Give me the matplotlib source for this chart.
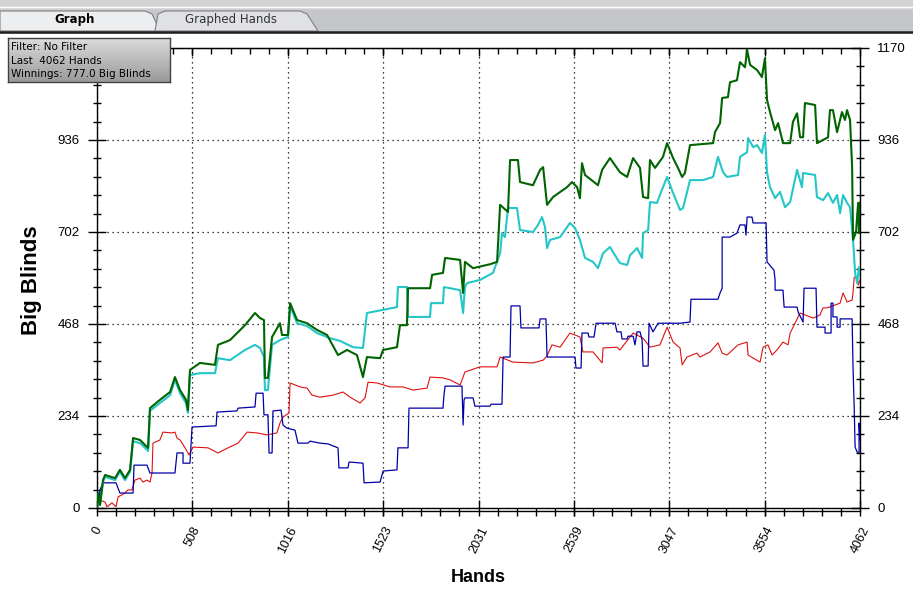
import numpy as np
import matplotlib.pyplot as plt
from matplotlib.patches import Rectangle, Polygon
from matplotlib.colors import LinearSegmentedColormap

# ---- data (hands, big blinds) ----
green_hands = [0, 5, 16, 32, 43, 96, 122, 149, 176, 192,
               229, 256, 272, 282, 335, 389, 415, 442, 474, 484,
               495, 548, 628, 644, 708, 788, 841, 868, 889, 894,
               910, 932, 974, 985, 1017, 1028, 1065, 1118, 1171, 1225,
               1283, 1331, 1384, 1416, 1437, 1507, 1523, 1597, 1613, 1650,
               1656, 1773, 1784, 1842, 1853, 1933, 1949, 1959, 2002, 2092,
               2130, 2146, 2188, 2199, 2241, 2252, 2321, 2359, 2375, 2396,
               2428, 2502, 2529, 2556, 2571, 2582, 2598, 2667, 2689, 2731,
               2784, 2822, 2854, 2891, 2907, 2934, 2944, 2971, 3013, 3035,
               3067, 3093, 3115, 3130, 3157, 3280, 3290, 3317, 3328, 3359,
               3370, 3407, 3423, 3450, 3461, 3477, 3514, 3540, 3556, 3567,
               3583, 3610, 3626, 3652, 3690, 3705, 3727, 3743, 3759, 3769,
               3823, 3833, 3865, 3892, 3902, 3918, 3940, 3966, 3982, 3993,
               4009, 4020, 4025, 4041, 4052, 4057, 4062]
green_bb = [0, 38, 8, 71, 84, 76, 97, 76, 97, 178,
            173, 160, 153, 254, 275, 295, 333, 300, 275, 249,
            351, 369, 364, 415, 427, 465, 496, 483, 478, 331,
            331, 435, 470, 440, 440, 521, 478, 470, 453, 440,
            389, 402, 389, 333, 384, 381, 402, 409, 465, 465,
            559, 559, 593, 598, 636, 631, 547, 626, 610, 620,
            626, 771, 753, 885, 885, 829, 821, 860, 867, 771,
            791, 816, 829, 816, 788, 877, 847, 821, 860, 890,
            854, 842, 890, 865, 791, 788, 885, 865, 893, 928,
            890, 865, 842, 852, 923, 928, 956, 979, 1043, 1045,
            1083, 1088, 1134, 1121, 1165, 1127, 1114, 1096, 1144, 1038,
            1007, 961, 979, 928, 928, 982, 1004, 943, 943, 1030,
            1025, 928, 936, 943, 1012, 1012, 956, 1007, 987, 1012,
            987, 867, 682, 702, 776, 699, 777]

cyan_hands = [0, 5, 16, 32, 43, 96, 122, 149, 176, 192,
              229, 256, 272, 282, 335, 389, 415, 442, 474, 484,
              495, 548, 628, 644, 708, 788, 841, 868, 889, 894,
              910, 932, 974, 1017, 1028, 1065, 1118, 1171, 1240, 1294,
              1363, 1416, 1437, 1523, 1597, 1602, 1650, 1656, 1773, 1778,
              1842, 1847, 1933, 1949, 1959, 1970, 2039, 2108, 2146, 2156,
              2172, 2188, 2236, 2252, 2321, 2348, 2369, 2385, 2396, 2412,
              2465, 2518, 2545, 2571, 2598, 2641, 2667, 2694, 2731, 2747,
              2784, 2822, 2838, 2875, 2902, 2907, 2934, 2944, 2981, 3013,
              3035, 3067, 3104, 3120, 3157, 3226, 3280, 3306, 3333, 3354,
              3413, 3423, 3461, 3466, 3493, 3514, 3540, 3556, 3567, 3583,
              3610, 3636, 3663, 3690, 3727, 3753, 3759, 3823, 3833, 3865,
              3892, 3918, 3940, 3956, 3972, 3993, 4009, 4025, 4036, 4047,
              4057, 4062]
cyan_bb = [0, 33, 8, 66, 79, 71, 92, 71, 92, 170,
           165, 153, 145, 247, 267, 287, 326, 292, 267, 242,
           338, 343, 343, 381, 376, 402, 415, 407, 384, 300,
           300, 415, 427, 435, 514, 470, 463, 445, 432, 425,
           409, 407, 496, 504, 511, 562, 562, 486, 486, 521,
           521, 562, 554, 496, 562, 572, 580, 598, 648, 699,
           689, 763, 763, 707, 702, 720, 740, 715, 661, 682,
           689, 725, 712, 682, 636, 626, 610, 648, 664, 651,
           623, 618, 643, 661, 636, 699, 707, 778, 776, 816,
           842, 801, 758, 763, 834, 834, 842, 893, 854, 842,
           847, 893, 905, 941, 918, 923, 903, 949, 854, 816,
           788, 804, 765, 778, 860, 816, 852, 847, 791, 783,
           801, 776, 796, 750, 796, 776, 765, 682, 598, 572,
           613, 593]

blue_hands = [0, 11, 16, 32, 101, 106, 122, 192, 197, 266,
              282, 415, 426, 458, 458, 495, 506, 634, 639, 745,
              751, 841, 847, 884, 889, 910, 916, 932, 937, 980,
              990, 1012, 1054, 1070, 1123, 1134, 1187, 1230, 1283, 1288,
              1336, 1342, 1416, 1422, 1507, 1523, 1597, 1602, 1656, 1661,
              1842, 1847, 1853, 1943, 1949, 1954, 1959, 2002, 2012, 2092,
              2098, 2156, 2162, 2199, 2204, 2252, 2257, 2353, 2359, 2390,
              2396, 2545, 2550, 2577, 2582, 2614, 2619, 2646, 2657, 2758,
              2768, 2790, 2795, 2822, 2827, 2854, 2864, 2875, 2891, 2902,
              2907, 2934, 2939, 2960, 2987, 3104, 3157, 3162, 3306, 3317,
              3328, 3328, 3370, 3407, 3423, 3450, 3455, 3461, 3487, 3493,
              3562, 3567, 3604, 3610, 3610, 3652, 3658, 3727, 3733, 3759,
              3764, 3828, 3833, 3876, 3876, 3908, 3908, 3918, 3918, 3940,
              3940, 3956, 3956, 4020, 4025, 4031, 4036, 4047, 4057, 4057,
              4062]
blue_bb = [0, 28, 46, 64, 64, 58, 38, 38, 109, 109,
           89, 89, 140, 140, 114, 114, 206, 209, 244, 247,
           254, 257, 292, 292, 237, 237, 140, 140, 247, 249,
           211, 203, 198, 165, 165, 170, 165, 163, 153, 102,
           102, 117, 114, 64, 66, 94, 97, 153, 153, 254,
           254, 287, 310, 310, 211, 275, 280, 280, 259, 259,
           264, 264, 384, 384, 514, 514, 458, 458, 481, 481,
           384, 384, 356, 356, 445, 445, 435, 435, 470, 470,
           448, 448, 430, 430, 437, 437, 415, 448, 448, 427,
           361, 361, 470, 448, 470, 470, 473, 531, 531, 547,
           559, 689, 689, 699, 720, 720, 694, 740, 740, 725,
           725, 626, 605, 580, 554, 554, 511, 511, 498, 473,
           559, 559, 460, 460, 445, 445, 521, 521, 486, 486,
           460, 460, 481, 481, 356, 257, 155, 142, 142, 216,
           173]

red_hands = [0, 16, 43, 53, 80, 101, 112, 149, 165, 186,
             202, 229, 245, 266, 282, 293, 298, 335, 351, 399,
             415, 426, 442, 469, 490, 511, 591, 644, 697, 751,
             799, 852, 905, 958, 974, 990, 1022, 1028, 1081, 1118,
             1145, 1187, 1256, 1310, 1347, 1400, 1427, 1443, 1491, 1560,
             1629, 1682, 1757, 1773, 1842, 1879, 1933, 1959, 2039, 2130,
             2146, 2215, 2321, 2375, 2396, 2422, 2465, 2518, 2571, 2587,
             2641, 2689, 2694, 2768, 2784, 2854, 2907, 2944, 2997, 3035,
             3067, 3104, 3115, 3141, 3194, 3210, 3264, 3306, 3328, 3354,
             3413, 3461, 3466, 3530, 3546, 3572, 3594, 3620, 3652, 3679,
             3690, 3716, 3743, 3796, 3812, 3849, 3865, 3887, 3956, 3972,
             3993, 4020, 4025, 4031, 4047, 4052, 4062]
red_bb = [3, 20, 15, 3, 13, 3, 28, 38, 46, 46,
          71, 76, 66, 71, 66, 89, 165, 173, 193, 191,
          193, 178, 173, 153, 135, 155, 153, 140, 153, 165,
          193, 191, 186, 191, 216, 231, 242, 318, 308, 305,
          287, 282, 287, 295, 282, 267, 280, 320, 318, 308,
          308, 300, 305, 333, 331, 326, 313, 346, 359, 359,
          384, 371, 369, 376, 387, 415, 409, 445, 435, 397,
          397, 369, 407, 409, 402, 445, 432, 409, 415, 460,
          422, 407, 364, 384, 394, 384, 397, 420, 394, 389,
          415, 422, 389, 371, 409, 415, 389, 402, 422, 415,
          445, 470, 496, 486, 483, 491, 509, 509, 521, 547,
          524, 529, 547, 587, 587, 567, 580]

x_ticks = [0, 508, 1016, 1523, 2031, 2539, 3047, 3554, 4062]
y_ticks = [0, 234, 468, 702, 936, 1170]
info_lines = ["Filter: No Filter", "Last  4062 Hands", "Winnings: 777.0 Big Blinds"]

W, H = 913, 591
fig = plt.figure(figsize=(W / 100, H / 100), dpi=100)

ax = fig.add_axes([97 / W, 83 / H, 763 / W, 460 / H])
ax.plot(red_hands, red_bb, color='#e01010', lw=0.8, zorder=3)
ax.plot(blue_hands, blue_bb, color='#0000a8', lw=0.9, zorder=3)
ax.plot(cyan_hands, cyan_bb, color='#25c6c8', lw=1.5, zorder=4)
ax.plot(green_hands, green_bb, color='#006400', lw=1.5, zorder=5)

ax.set_xlim(0, 4062)
ax.set_ylim(0, 1170)
ax.set_xticks(x_ticks)
ax.set_xticklabels([str(v) for v in x_ticks], rotation=63, fontsize=9,
                   family='Liberation Sans')
ax.set_xticks(np.linspace(0, 4062, 41), minor=True)
ax.set_yticks(y_ticks)
ax.set_yticklabels([str(v) for v in y_ticks], fontsize=9.5, family='Liberation Sans')
ax.set_yticks(np.linspace(0, 1170, 26), minor=True)

ax.grid(True, which='major', color='black', linestyle=(0, (1, 3)), linewidth=0.9)
ax.tick_params(axis='y', which='major', direction='inout', length=13, width=1,
               left=True, right=True, labelleft=True, labelright=True, pad=6)
ax.tick_params(axis='y', which='minor', direction='inout', length=6, width=1,
               left=True, right=True)
ax.tick_params(axis='x', which='major', direction='inout', length=12, width=1, pad=6)
ax.tick_params(axis='x', which='minor', direction='out', length=6, width=1)
for s in ax.spines.values():
    s.set_linewidth(1.0)
# the left "1170" sits under the info box in the reference
ax.yaxis.get_major_ticks()[-1].label1.set_visible(False)

top = ax.secondary_xaxis('top')
top.set_xticks(x_ticks)
top.set_xticks(np.linspace(0, 4062, 41), minor=True)
top.tick_params(which='major', direction='in', length=6, width=1, labeltop=False)
top.tick_params(which='minor', direction='in', length=4, width=1)

# double line at the bottom
ax.plot([0, 1], [-0.0065, -0.0065], transform=ax.transAxes, color='black',
        lw=1.0, clip_on=False)

fig.text(478 / W, 1 - 577 / H, 'Hands', ha='center', va='center',
         fontsize=13, fontweight='bold', family='Liberation Sans')
fig.text(31 / W, 1 - 280 / H, 'Big Blinds', ha='center', va='center',
         rotation=90, fontsize=16, fontweight='bold', family='Liberation Sans')

# tab strip on top
hdr = fig.add_axes([0, 1 - 34 / H, 1, 34 / H])
hdr.set_xlim(0, W)
hdr.set_ylim(34, 0)
hdr.axis('off')
hdr.add_patch(Rectangle((0, 0), W, 34, color='#d2d2d2', zorder=0))
hdr.plot([0, W], [7, 7], color='white', lw=1)
hdr.add_patch(Rectangle((0, 10), W, 21, color='#c4c6ca', zorder=1))
hdr.add_patch(Polygon([(0, 31), (0, 11), (145, 11), (152, 14), (160, 31)],
                      closed=True, fc='#eceef0', ec='#808080', lw=0.8, zorder=2))
hdr.add_patch(Polygon([(155, 31), (158, 14), (165, 11), (300, 11), (307, 14), (318, 31)],
                      closed=True, fc='#dfe1e4', ec='#808080', lw=0.8, zorder=2))
hdr.text(75, 20, 'Graph', ha='center', va='center', fontsize=8.5,
         fontweight='bold', zorder=3)
hdr.text(231, 20, 'Graphed Hands', ha='center', va='center', fontsize=8.5,
         color='#333333', zorder=3)
hdr.plot([0, W], [32, 32], color='#202020', lw=1.8, zorder=4)

# info box
bx = fig.add_axes([8 / W, 1 - 82 / H, 162 / W, 44 / H])
grad = np.linspace(0, 1, 64).reshape(-1, 1)
cmap = LinearSegmentedColormap.from_list('box', ['#dcdcdc', '#9a9a9a'])
bx.imshow(grad, aspect='auto', cmap=cmap, extent=[0, 1, 0, 1])
bx.set_xticks([])
bx.set_yticks([])
for s in bx.spines.values():
    s.set_color('#404040')
    s.set_linewidth(1)
for txt, yy in zip(info_lines, [0.80, 0.48, 0.19]):
    bx.text(0.02, yy, txt, transform=bx.transAxes, ha='left', va='center',
            fontsize=7.5, color='black')

fig.savefig('out.png', dpi=100)
